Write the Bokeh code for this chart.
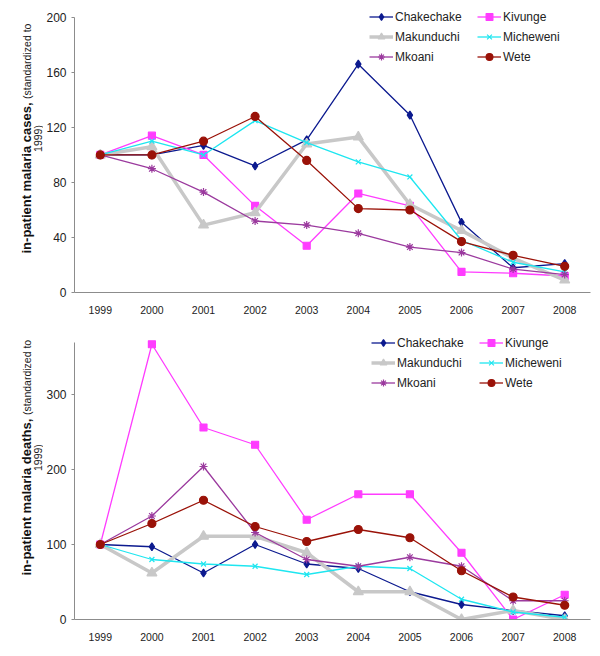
import math
from bokeh.plotting import figure
from bokeh.layouts import column, row
from bokeh.models import (FactorRange, Range1d, Legend, LegendItem, Label, FixedTicker)
from bokeh.embed import file_html
from bokeh.resources import INLINE

years = ["1999", "2000", "2001", "2002", "2003", "2004", "2005", "2006", "2007", "2008"]

# in-patient malaria cases (standardized to 1999)
cases_chakechake = [100, 100, 107, 92, 111, 166, 129, 51, 18, 21]
cases_kivunge = [100, 114, 100, 63, 34, 72, 63, 15, 14, 12]
cases_makunduchi = [100, 106, 49, 58, 108, 113, 64, 45, 25, 9]
cases_micheweni = [100, 110, 100, 125, 109, 95, 84, 38, 22, 15]
cases_mkoani = [100, 90, 73, 52, 49, 43, 33, 29, 17, 13]
cases_wete = [100, 100, 110, 128, 96, 61, 60, 37, 27, 19]

# in-patient malaria deaths (standardized to 1999)
deaths_chakechake = [100, 97, 62, 100, 74, 68, 37, 20, 12, 5]
deaths_kivunge = [100, 367, 256, 233, 133, 167, 167, 89, 0, 33]
deaths_makunduchi = [100, 62, 111, 111, 89, 37, 37, 0, 12, 0]
deaths_micheweni = [100, 80, 74, 71, 60, 71, 68, 27, 10, 3]
deaths_mkoani = [100, 138, 204, 116, 80, 71, 83, 71, 25, 25]
deaths_wete = [100, 128, 159, 124, 104, 120, 109, 65, 30, 19]

district_names = ["Chakechake", "Kivunge", "Makunduchi", "Micheweni", "Mkoani", "Wete"]
# legend reading order (row by row, two columns)
legend_order = ["Chakechake", "Makunduchi", "Mkoani", "Kivunge", "Micheweni", "Wete"]
cases_ticks = [0, 40, 80, 120, 160, 200]
deaths_ticks = [0, 100, 200, 300]

styles = {
    "Chakechake": dict(color="#0c1a8f", marker="diamond", size=8, lw=1.3),
    "Kivunge": dict(color="#ff3cff", marker="square", size=7, lw=1.3),
    "Makunduchi": dict(color="#c8c8c8", marker="triangle", size=10, lw=3.5),
    "Micheweni": dict(color="#1ee6f0", marker="x", size=7, lw=1.3),
    "Mkoani": dict(color="#9b3a9e", marker="asterisk", size=8, lw=1.3),
    "Wete": dict(color="#9a1208", marker="circle", size=8, lw=1.3),
}

FONT = "Liberation Sans"
LABEL_W = 43


def make_plot(series, y_max, y_top, ticks, height, b_top, b_bottom, legend_xy):
    p = figure(x_range=FactorRange(*years), y_range=Range1d(0, y_max),
               width=592 - LABEL_W, height=height, output_backend="svg",
               toolbar_location=None, min_border_left=73 - LABEL_W,
               min_border_right=2,
               min_border_top=b_top, min_border_bottom=b_bottom)
    p.outline_line_color = None
    p.xgrid.grid_line_color = None
    p.ygrid.grid_line_color = None
    p.background_fill_color = "white"
    p.border_fill_color = "white"

    for ax in (p.xaxis[0], p.yaxis[0]):
        ax.axis_line_color = "#8c8c8c"
        ax.axis_line_width = 1
        ax.major_tick_line_color = "#8c8c8c"
        ax.minor_tick_line_color = None
        ax.major_label_text_font = FONT
        ax.major_label_text_color = "#222222"
    p.xaxis[0].major_tick_out = 0
    p.xaxis[0].major_tick_in = 0
    p.xaxis[0].major_label_text_font_size = "10.5px"
    p.xaxis[0].major_label_standoff = 13
    p.yaxis[0].major_tick_out = 3
    p.yaxis[0].major_tick_in = 0
    p.yaxis[0].major_label_text_font_size = "12px"
    p.yaxis[0].major_label_standoff = 5
    p.yaxis[0].ticker = FixedTicker(ticks=ticks)
    p.yaxis[0].bounds = (0, y_top)

    rend = {}
    for name, vals in zip(district_names, series):
        st = styles[name]
        r1 = p.line(years, vals, line_color=st["color"], line_width=st["lw"])
        r2 = p.scatter(years, vals, marker=st["marker"], size=st["size"],
                       fill_color=st["color"], line_color=st["color"],
                       line_width=1.2)
        rend[name] = [r1, r2]
    items = [LegendItem(label=n, renderers=rend[n]) for n in legend_order]

    legend = Legend(items=items, ncols=2, location=legend_xy,
                    background_fill_alpha=0, border_line_alpha=0,
                    padding=0, margin=0, spacing=3,
                    glyph_width=24, glyph_height=17, label_height=17,
                    label_width=79, label_standoff=2,
                    label_text_font=FONT, label_text_font_size="12px",
                    label_text_color="#222222")
    p.add_layout(legend, "center")
    return p


def make_label_panel(bold_text, height, b_top, b_bottom, bold_y, small_y, line2_y):
    q = figure(width=LABEL_W, height=height, x_range=Range1d(0, LABEL_W),
               y_range=Range1d(0, 1), x_axis_type=None, y_axis_type=None,
               output_backend="svg", toolbar_location=None,
               min_border_left=0, min_border_right=0,
               min_border_top=b_top, min_border_bottom=b_bottom)
    q.outline_line_color = None
    q.xgrid.grid_line_color = None
    q.ygrid.grid_line_color = None
    q.add_layout(Label(x=26, y=bold_y, x_units="screen", y_units="screen",
                       text=bold_text, angle=math.pi / 2,
                       text_font=FONT, text_font_size="13px",
                       text_font_style="bold", text_color="#111111",
                       text_align="left", text_baseline="alphabetic"))
    q.add_layout(Label(x=26, y=small_y, x_units="screen", y_units="screen",
                       text="(standardized to", angle=math.pi / 2,
                       text_font=FONT, text_font_size="10.5px",
                       text_color="#222222",
                       text_align="left", text_baseline="alphabetic"))
    q.add_layout(Label(x=37.5, y=line2_y, x_units="screen", y_units="screen",
                       text="1999)", angle=math.pi / 2,
                       text_font=FONT, text_font_size="10.5px",
                       text_color="#222222",
                       text_align="center", text_baseline="alphabetic"))
    return q


# top panel: frame from y=8 to y=292 ; bottom panel: frame from y=334 to y=619
p1 = make_plot([cases_chakechake, cases_kivunge, cases_makunduchi,
                cases_micheweni, cases_mkoani, cases_wete],
               206.5, 200, cases_ticks, 328, 8, 36, (295, 227))
l1 = make_label_panel("in-patient malaria cases,", 328, 8, 36, 39, 193.6, 154)

p2 = make_plot([deaths_chakechake, deaths_kivunge, deaths_makunduchi,
                deaths_micheweni, deaths_mkoani, deaths_wete],
               380, 370, deaths_ticks, 328, 6, 37, (297, 228))
l2 = make_label_panel("in-patient malaria deaths,", 328, 6, 37, 44, 204.4, 161.9)

layout = column(row(l1, p1, spacing=0), row(l2, p2, spacing=0), spacing=0)
open("out.html", "w").write(file_html(layout, INLINE))
